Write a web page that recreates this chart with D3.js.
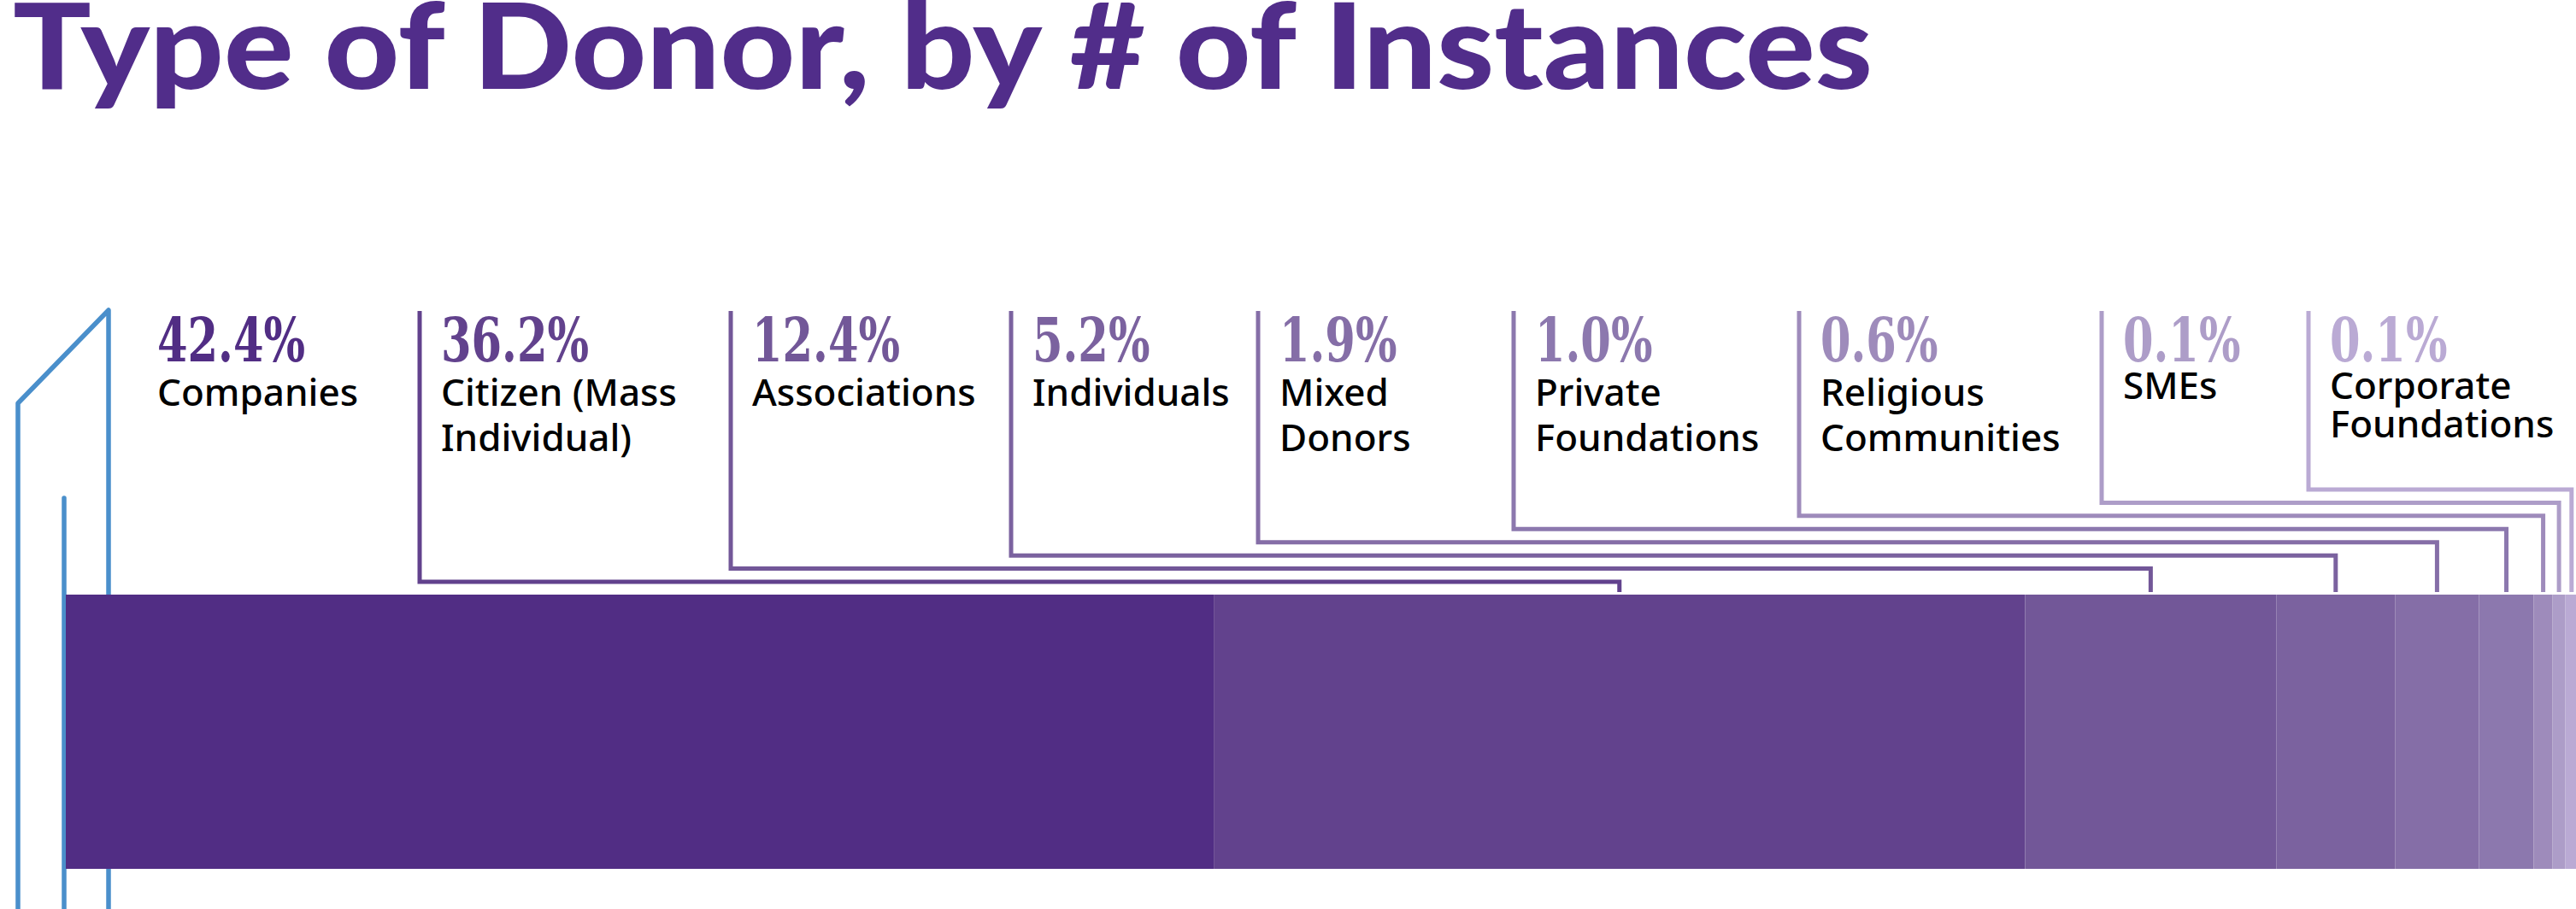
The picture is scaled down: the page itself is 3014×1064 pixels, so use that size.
<!DOCTYPE html>
<html>
<head>
<meta charset="utf-8">
<script src="https://cdn.jsdelivr.net/npm/d3@7"></script>
<style>
  body { margin: 0; background: #fff; }
  svg { display: block; }
</style>
</head>
<body>
<div id="chart"></div>
<script>
// donor types, left to right
const categories = ['Companies', 'Citizen (Mass Individual)', 'Associations', 'Individuals',
    'Mixed Donors', 'Private Foundations', 'Religious Communities', 'SMEs', 'Corporate Foundations'];

// how the names break over lines in the labels
const labelLines = [
    ['Companies'],
    ['Citizen (Mass', 'Individual)'],
    ['Associations'],
    ['Individuals'],
    ['Mixed', 'Donors'],
    ['Private', 'Foundations'],
    ['Religious', 'Communities'],
    ['SMEs'],
    ['Corporate', 'Foundations']
];

// printed share of instances (%)
const percents = [42.4, 36.2, 12.4, 5.2, 1.9, 1.0, 0.6, 0.1, 0.1];

// segment widths of the bar as drawn in the source (% of bar);
// they don't follow the printed percentages exactly
const barShare = [45.7, 32.3, 10.0, 4.73, 3.34, 2.18, 0.75, 0.51, 0.49];

const segmentColors = ['#512d84', '#62428d', '#725798', '#7b629f', '#856ea7',
    '#8c78ae', '#9e8bbb', '#ad9dc8', '#baaad4'];

document.addEventListener('DOMContentLoaded', function() {
    drawChart();
});

function drawChart() {
    const width = 3014;
    const height = 1064;
    const bar = { left: 77, right: 3016, top: 696, bottom: 1017 };

    // x position of each label column (text start)
    const labelX = [184, 516, 880, 1208, 1497, 1796, 2130, 2484, 2726];

    const svg = d3.select('#chart')
        .append('svg')
        .attr('width', width)
        .attr('height', height);

    // title
    const title = svg.append('text')
        .attr('x', 15)
        .attr('y', 104)
        .attr('fill', '#512d8a')
        .style('font-family', 'Lato, sans-serif')
        .style('font-weight', 900)
        .style('font-size', '140px')
        .text('Type of Donor, by # of Instances');
    title.attr('textLength', 2176).attr('lengthAdjust', 'spacingAndGlyphs');

    // blue guide lines on the left edge
    const blue = '#4a8fcb';
    svg.append('path')
        .attr('d', 'M21,1070 V472 L127,363 V1070')
        .attr('fill', 'none')
        .attr('stroke', blue)
        .attr('stroke-width', 5.5)
        .attr('stroke-linejoin', 'round');
    svg.append('path')
        .attr('d', 'M75,583 V1070')
        .attr('fill', 'none')
        .attr('stroke', blue)
        .attr('stroke-width', 5.5)
        .attr('stroke-linecap', 'round');

    // stacked bar
    const starts = [];
    barShare.reduce((acc, v) => { starts.push(acc); return acc + v; }, 0);
    const segments = barShare.map((v, i) => ({
        name: categories[i],
        start: starts[i],
        value: v,
        color: segmentColors[i]
    }));

    const x = d3.scaleLinear()
        .domain([0, d3.sum(barShare)])
        .range([bar.left, bar.right]);

    svg.selectAll('.segment')
        .data(segments)
        .enter()
        .append('rect')
        .attr('class', 'segment')
        .attr('x', d => x(d.start))
        .attr('y', bar.top)
        .attr('width', d => x(d.start + d.value) - x(d.start))
        .attr('height', bar.bottom - bar.top)
        .attr('fill', d => d.color);

    // leader lines from each label down to its segment (none for Companies)
    const levelY = d3.scaleLinear().domain([1, 8]).range([681, 573]);
    svg.selectAll('.leader')
        .data(segments.slice(1))
        .enter()
        .append('path')
        .attr('class', 'leader')
        .attr('d', (d, j) => {
            const i = j + 1;
            const lx = labelX[i] - 25;
            const dropX = x(d.start + d.value / 2);
            return `M${lx},364 V${levelY(i)} H${dropX} V${bar.top - 3}`;
        })
        .attr('fill', 'none')
        .attr('stroke', d => d.color)
        .attr('stroke-width', 5);

    // labels
    const labels = svg.selectAll('.label')
        .data(segments)
        .enter()
        .append('g')
        .attr('class', 'label')
        .attr('transform', (d, i) => `translate(${labelX[i]},0)`);

    labels.append('text')
        .attr('y', 423)
        .attr('fill', d => d.color)
        .style('font-family', '"DejaVu Serif Condensed", "DejaVu Serif", serif')
        .style('font-weight', 700)
        .style('font-size', '71px')
        .text((d, i) => d3.format('.1f')(percents[i]) + '%')
        .each(function() {
            // squeeze the slab numerals to the narrow cut used in the source
            const w = this.getComputedTextLength();
            d3.select(this).attr('textLength', w * 0.8).attr('lengthAdjust', 'spacingAndGlyphs');
        });

    labels.each(function(d, i) {
        const tight = i >= 7;
        const firstY = tight ? 467 : 475;
        const lineH = tight ? 45 : 53;
        d3.select(this).selectAll('.name')
            .data(labelLines[i])
            .enter()
            .append('text')
            .attr('class', 'name')
            .attr('y', (t, k) => firstY + k * lineH)
            .attr('fill', '#000')
            .style('font-family', '"Noto Sans", sans-serif')
            .style('font-weight', 500)
            .style('font-size', '44px')
            .text(t => t);
    });
}
</script>
</body>
</html>
